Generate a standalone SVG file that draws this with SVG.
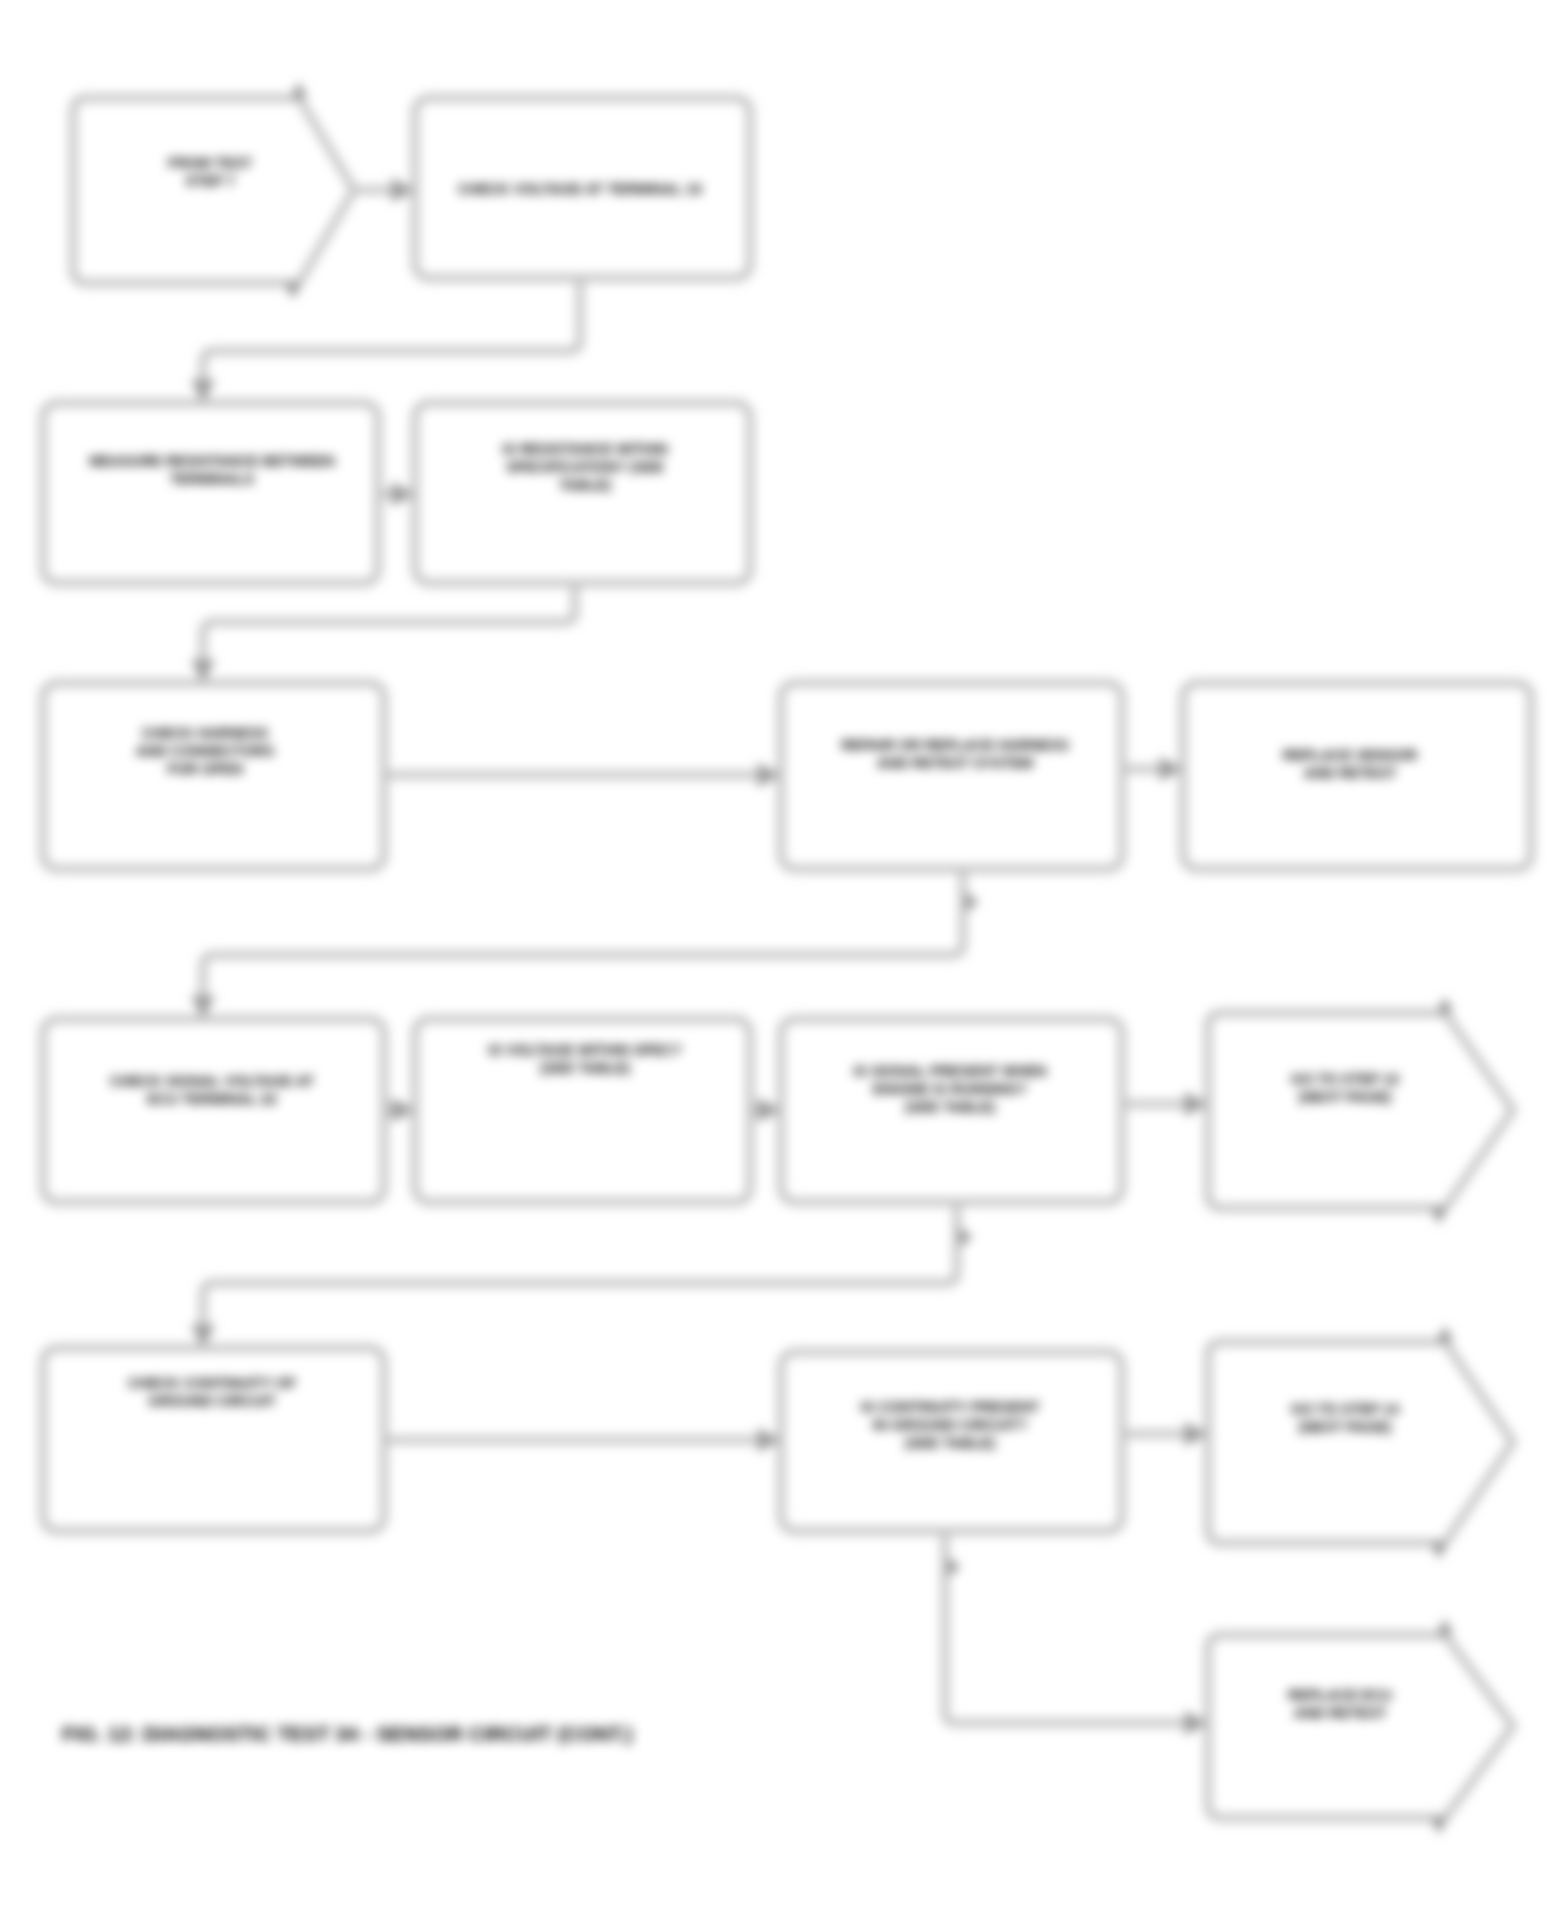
<svg xmlns="http://www.w3.org/2000/svg" width="1562" height="1912" viewBox="0 0 1562 1912">
<defs>
<filter id="soft" filterUnits="userSpaceOnUse" x="0" y="0" width="1562" height="1912">
<feGaussianBlur stdDeviation="5.5"/>
</filter>
<marker id="arr" viewBox="0 0 10 10" refX="9" refY="5" markerWidth="3" markerHeight="3" orient="auto" markerUnits="strokeWidth">
<path d="M0,0 L10,5 L0,10 Z" fill="#999"/>
</marker>
</defs>
<style>
.box{fill:none;stroke:#c2c2c2;stroke-width:8}
.tab{fill:#8a8a8a}
.ln{fill:none;stroke:#c2c2c2;stroke-width:8;stroke-linejoin:round}
.t{font-family:"Liberation Sans",Arial,sans-serif;font-size:14.5px;font-weight:bold;fill:#000;text-anchor:middle}
.cap{font-family:"Liberation Sans",Arial,sans-serif;font-size:20.5px;font-weight:bold;fill:#000}
</style>
<rect width="1562" height="1912" fill="#fff"/>
<g filter="url(#soft)">
<g id="connectors">
<path class="ln" d="M354 190 H413" marker-end="url(#arr)"/>
<path class="ln" d="M580 280 V340 Q580 351 569 351 H214 Q203 351 203 362 V401" marker-end="url(#arr)"/>
<path class="ln" d="M378 494 H413" marker-end="url(#arr)"/>
<path class="ln" d="M575 585 V611 Q575 622 564 622 H214 Q203 622 203 633 V681" marker-end="url(#arr)"/>
<path class="ln" d="M384 775 H779" marker-end="url(#arr)"/>
<path class="ln" d="M1122 769 H1181" marker-end="url(#arr)"/>
<path class="ln" d="M963 871 V944 Q963 955 952 955 H214 Q203 955 203 966 V1017" marker-end="url(#arr)"/>
<path class="ln" d="M381 1110 H413" marker-end="url(#arr)"/>
<path class="ln" d="M750 1110 H779" marker-end="url(#arr)"/>
<path class="ln" d="M1122 1104 H1206" marker-end="url(#arr)"/>
<path class="ln" d="M957 1204 V1272 Q957 1283 946 1283 H214 Q203 1283 203 1294 V1346" marker-end="url(#arr)"/>
<path class="ln" d="M384 1440 H779" marker-end="url(#arr)"/>
<path class="ln" d="M1122 1434 H1206" marker-end="url(#arr)"/>
<path class="ln" d="M945 1533 V1712 Q945 1723 956 1723 H1206" marker-end="url(#arr)"/>
<path class="tab" d="M966 892 l12 10 l-12 10 Z"/>
<path class="tab" d="M960 1227 l12 10 l-12 10 Z"/>
<path class="tab" d="M948 1557 l12 10 l-12 10 Z"/>
</g>
<g id="nA">
<path class="box" d="M87 98 H299 L354 190 L299 283 H87 Q73 283 73 269 V112 Q73 98 87 98 Z"/>
<path class="tab" d="M291 98 L299 82 L307 98 Z"/>
<path class="tab" d="M285 283 L293 299 L301 283 Z"/>
<text class="t" x="210" y="168">FROM TEST</text>
<text class="t" x="210" y="186">STEP 7</text>
</g>
<g id="nB">
<rect class="box" x="415" y="98" width="335" height="180" rx="14"/>
<text class="t" x="580" y="194">CHECK VOLTAGE AT TERMINAL 10</text>
</g>
<g id="nC">
<rect class="box" x="43" y="403" width="335" height="180" rx="14"/>
<text class="t" x="212" y="466">MEASURE RESISTANCE BETWEEN</text>
<text class="t" x="212" y="484">TERMINALS</text>
</g>
<g id="nD">
<rect class="box" x="415" y="403" width="335" height="180" rx="14"/>
<text class="t" x="585" y="454">IS RESISTANCE WITHIN</text>
<text class="t" x="585" y="472">SPECIFICATION? (SEE</text>
<text class="t" x="585" y="490">TABLE)</text>
</g>
<g id="nE">
<rect class="box" x="43" y="683" width="341" height="186" rx="14"/>
<text class="t" x="205" y="738">CHECK HARNESS</text>
<text class="t" x="205" y="756">AND CONNECTORS</text>
<text class="t" x="205" y="774">FOR OPEN</text>
</g>
<g id="nF">
<rect class="box" x="781" y="683" width="341" height="186" rx="14"/>
<text class="t" x="955" y="750">REPAIR OR REPLACE HARNESS</text>
<text class="t" x="955" y="768">AND RETEST SYSTEM</text>
</g>
<g id="nG">
<rect class="box" x="1183" y="683" width="348" height="186" rx="14"/>
<text class="t" x="1350" y="760">REPLACE SENSOR</text>
<text class="t" x="1350" y="778">AND RETEST</text>
</g>
<g id="nH">
<rect class="box" x="43" y="1019" width="341" height="183" rx="14"/>
<text class="t" x="212" y="1086">CHECK SIGNAL VOLTAGE AT</text>
<text class="t" x="212" y="1104">ECU TERMINAL 22</text>
</g>
<g id="nI">
<rect class="box" x="415" y="1019" width="335" height="183" rx="14"/>
<text class="t" x="585" y="1055">IS VOLTAGE WITHIN SPEC?</text>
<text class="t" x="585" y="1073">(SEE TABLE)</text>
</g>
<g id="nJ">
<rect class="box" x="781" y="1019" width="341" height="183" rx="14"/>
<text class="t" x="950" y="1076">IS SIGNAL PRESENT WHEN</text>
<text class="t" x="950" y="1094">ENGINE IS RUNNING?</text>
<text class="t" x="950" y="1112">(SEE TABLE)</text>
</g>
<g id="nK">
<path class="box" d="M1222 1013 H1445 L1513 1110 L1445 1208 H1222 Q1208 1208 1208 1194 V1027 Q1208 1013 1222 1013 Z"/>
<path class="tab" d="M1437 1013 L1445 997 L1453 1013 Z"/>
<path class="tab" d="M1431 1208 L1439 1224 L1447 1208 Z"/>
<text class="t" x="1345" y="1084">GO TO STEP 12</text>
<text class="t" x="1345" y="1102">(NEXT PAGE)</text>
</g>
<g id="nL">
<rect class="box" x="43" y="1348" width="341" height="183" rx="14"/>
<text class="t" x="212" y="1388">CHECK CONTINUITY OF</text>
<text class="t" x="212" y="1406">GROUND CIRCUIT</text>
</g>
<g id="nM">
<rect class="box" x="781" y="1352" width="341" height="179" rx="14"/>
<text class="t" x="950" y="1412">IS CONTINUITY PRESENT</text>
<text class="t" x="950" y="1430">IN GROUND CIRCUIT?</text>
<text class="t" x="950" y="1448">(SEE TABLE)</text>
</g>
<g id="nN">
<path class="box" d="M1222 1342 H1445 L1513 1442 L1445 1543 H1222 Q1208 1543 1208 1529 V1356 Q1208 1342 1222 1342 Z"/>
<path class="tab" d="M1437 1342 L1445 1326 L1453 1342 Z"/>
<path class="tab" d="M1431 1543 L1439 1559 L1447 1543 Z"/>
<text class="t" x="1345" y="1414">GO TO STEP 14</text>
<text class="t" x="1345" y="1432">(NEXT PAGE)</text>
</g>
<g id="nO">
<path class="box" d="M1222 1635 H1445 L1513 1726 L1445 1818 H1222 Q1208 1818 1208 1804 V1649 Q1208 1635 1222 1635 Z"/>
<path class="tab" d="M1437 1635 L1445 1619 L1453 1635 Z"/>
<path class="tab" d="M1431 1818 L1439 1834 L1447 1818 Z"/>
<text class="t" x="1340" y="1700">REPLACE ECU</text>
<text class="t" x="1340" y="1718">AND RETEST</text>
</g>
<g id="caption">
<text class="cap" x="62" y="1741">FIG. 12: DIAGNOSTIC TEST 34 - SENSOR CIRCUIT (CONT.)</text>
</g>
</g>
</svg>
